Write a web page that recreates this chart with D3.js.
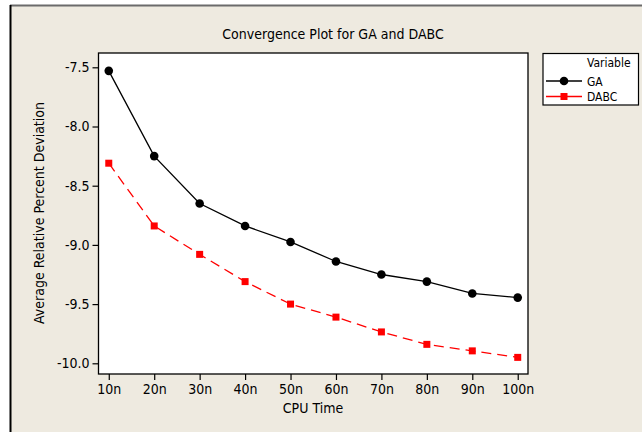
<!DOCTYPE html>
<html><head><meta charset="utf-8">
<script src="https://cdn.jsdelivr.net/npm/d3@7"></script>
<style>body{margin:0;background:#fff}svg{display:block}</style>
</head><body>
<script>
const categories = ["10n","20n","30n","40n","50n","60n","70n","80n","90n","100n"];
const gaValues   = [-7.53,-8.25,-8.65,-8.84,-8.975,-9.14,-9.25,-9.31,-9.41,-9.445];
const dabcValues = [-8.31,-8.84,-9.08,-9.31,-9.50,-9.61,-9.735,-9.84,-9.895,-9.95];
const yTicks = [-7.5,-8.0,-8.5,-9.0,-9.5,-10.0];
const seriesNames = ["GA","DABC"];

const W = 642, H = 432;
const FONT = "'DejaVu Sans Condensed','DejaVu Sans',sans-serif";
const svg = d3.select("body").append("svg").attr("width",W).attr("height",H);

// figure background and frame
svg.append("rect").attr("x",0).attr("y",0).attr("width",W).attr("height",H).attr("fill","#fff");
svg.append("rect").attr("x",11).attr("y",6).attr("width",W-11).attr("height",H-6).attr("fill","#EEEAE0");
svg.append("line").attr("x1",10).attr("x2",W).attr("y1",5.5).attr("y2",5.5).attr("stroke","#6b6b6b").attr("stroke-width",2);
svg.append("line").attr("x1",10.5).attr("x2",10.5).attr("y1",5).attr("y2",H).attr("stroke","#000").attr("stroke-width",2);

const L = 98.5, R = 528, T = 53, B = 374;
const x = d3.scalePoint().domain(categories).range([L,R]).padding(0.226);
const y = d3.scaleLinear().domain([-7.5,-10.0]).range([67.3,363.3]);

svg.append("rect").attr("x",L).attr("y",T).attr("width",R-L).attr("height",B-T)
  .attr("fill","#fff").attr("stroke","#000").attr("stroke-width",1.3);

const yAxis = svg.append("g").attr("transform",`translate(${L},0)`)
  .call(d3.axisLeft(y).tickValues(yTicks).tickFormat(d3.format(".1f")).tickSize(6).tickPadding(3));
const xAxis = svg.append("g").attr("transform",`translate(0,${B})`)
  .call(d3.axisBottom(x).tickSize(6).tickPadding(4));
[yAxis,xAxis].forEach(a=>{
  a.select(".domain").remove();
  a.selectAll(".tick line").attr("stroke","#000").attr("stroke-width",1.2);
  a.selectAll("text").attr("font-family",FONT).attr("font-size",14).attr("fill","#000");
});
yAxis.selectAll("text").text(d=>d3.format(".1f")(d).replace("−","-"));

// title and axis labels
svg.append("text").attr("x",333).attr("y",39).attr("text-anchor","middle")
  .attr("font-family",FONT).attr("font-size",14).text("Convergence Plot for GA and DABC");
svg.append("text").attr("x",313).attr("y",413).attr("text-anchor","middle")
  .attr("font-family",FONT).attr("font-size",14).text("CPU Time");
svg.append("text").attr("transform","translate(44,213) rotate(-90)").attr("text-anchor","middle")
  .attr("font-family",FONT).attr("font-size",14).text("Average Relative Percent Deviation");

const line = d3.line().x((d,i)=>x(categories[i])).y(d=>y(d));
svg.append("path").datum(gaValues).attr("d",line).attr("fill","none").attr("stroke","#000").attr("stroke-width",1.3);
svg.append("path").datum(dabcValues).attr("d",line).attr("fill","none").attr("stroke","#ff0000").attr("stroke-width",1.3).attr("stroke-dasharray","10,6");
svg.append("g").selectAll("circle").data(gaValues).join("circle")
  .attr("cx",(d,i)=>x(categories[i])).attr("cy",d=>y(d)).attr("r",4.3).attr("fill","#000");
svg.append("g").selectAll("rect").data(dabcValues).join("rect")
  .attr("x",(d,i)=>x(categories[i])-3.5).attr("y",d=>y(d)-3.5).attr("width",7).attr("height",7).attr("fill","#ff0000");

// legend
const lg = svg.append("g");
lg.append("rect").attr("x",543).attr("y",53.5).attr("width",95.5).attr("height",51.5)
  .attr("fill","#fff").attr("stroke","#000").attr("stroke-width",1.2);
lg.append("text").attr("x",587).attr("y",67).attr("font-family",FONT).attr("font-size",12).text("Variable");
const legY = [81,96.5];
seriesNames.forEach((s,i)=>{
  const col = i===0 ? "#000" : "#ff0000";
  lg.append("line").attr("x1",546).attr("x2",582).attr("y1",legY[i]).attr("y2",legY[i]).attr("stroke",col).attr("stroke-width",1.3);
  if(i===0) lg.append("circle").attr("cx",564).attr("cy",legY[i]).attr("r",4.3).attr("fill",col);
  else lg.append("rect").attr("x",560.5).attr("y",legY[i]-3.5).attr("width",7).attr("height",7).attr("fill",col);
  lg.append("text").attr("x",587).attr("y",legY[i]+4.5).attr("font-family",FONT).attr("font-size",12).text(s);
});
</script>
</body></html>
